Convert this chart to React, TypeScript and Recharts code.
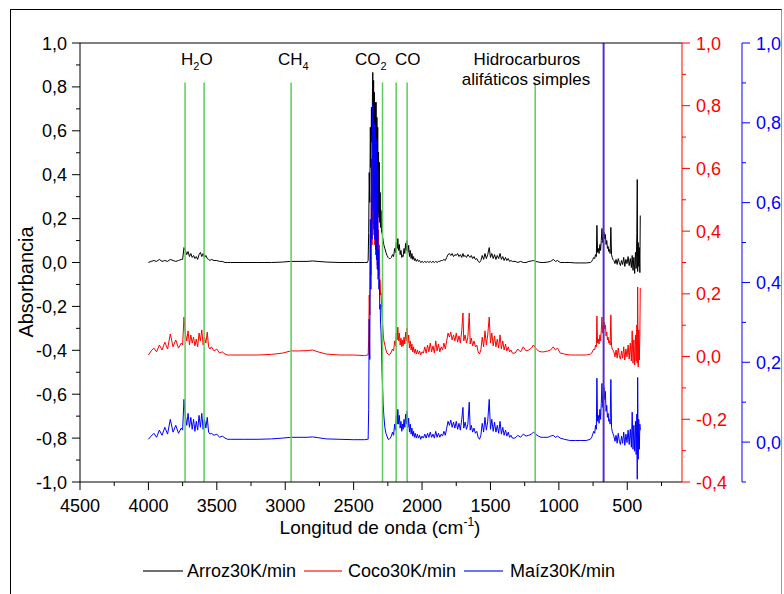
import { LineChart, Line, XAxis, YAxis, ReferenceLine } from 'recharts';

const FONT = '"Liberation Sans", Arial, sans-serif';

// wavenumber grid (cm-1), shared by the three spectra
const waveNumbers = [
  4000, 3980, 3960, 3940, 3920, 3900, 3880, 3860, 3840, 3820, 3800, 3780, 3760,
  3750, 3740, 3730, 3720, 3710, 3700, 3690, 3680, 3670, 3660, 3650, 3640, 3630, 3620, 3610, 3600, 3590, 3580, 3570, 3560, 3550,
  3540, 3520, 3500, 3480, 3460, 3440, 3420,
  3400, 3300, 3200, 3100, 3020, 2960, 2900, 2840, 2800, 2760, 2700, 2600, 2500, 2420,
  2400, 2394, 2390, 2386, 2382, 2378, 2374, 2370, 2366, 2362, 2360, 2357, 2354, 2351, 2348, 2345, 2342, 2339, 2336, 2333, 2330, 2327, 2324, 2321, 2318, 2315, 2312, 2309, 2306, 2303, 2300, 2296, 2292, 2288, 2284, 2280,
  2272, 2264, 2256, 2248, 2240, 2232, 2224, 2216, 2208, 2200, 2194, 2188, 2182, 2177, 2172, 2166, 2160, 2154, 2148, 2143, 2138, 2132, 2126, 2120, 2114, 2109, 2104, 2098, 2092, 2086, 2080, 2074, 2068, 2062, 2056, 2050, 2042, 2034, 2026, 2018, 2010, 2000,
  1990, 1980, 1970, 1960, 1950, 1940, 1930, 1920, 1910, 1900, 1890, 1880, 1870, 1860, 1850, 1840,
  1830, 1820, 1810, 1800, 1790, 1780, 1770, 1760, 1750, 1740, 1730, 1720, 1710, 1701, 1695, 1685, 1675, 1665, 1655, 1648, 1640, 1630, 1620, 1610, 1600, 1590, 1580,
  1570, 1560, 1550, 1540, 1530, 1520, 1509, 1500, 1490, 1480, 1470, 1460, 1450, 1440, 1430, 1420, 1410, 1400, 1390, 1380, 1370, 1360, 1350, 1340,
  1320, 1300, 1280, 1260, 1240, 1220, 1200, 1186, 1170, 1150, 1130, 1110, 1080, 1060, 1041, 1025, 1010, 990, 960, 920, 880, 840, 800, 770,
  760, 752, 745, 738, 732, 726, 722, 717, 712, 706, 700, 695, 690, 685, 680, 675, 670, 665, 660, 655, 650, 645, 640, 635, 630, 625, 620, 615, 610, 605,
  598, 590, 582, 574, 566, 558, 550, 542, 534, 526, 518, 510, 502, 494, 486, 478, 470, 464, 458, 452, 446, 440, 435, 430, 427, 424, 420, 416, 412, 408, 405,
];

// Arroz 30K/min (left axis)
const arroz = [
  0, .005, .009, .005, .014, .005, .009, .005, .014, .009, .005, .009, .014,
  .014, .068, .055, .036, .050, .027, .041, .023, .032, .018, .027, .014, .036, .046, .027, .041, .023, .032, .018, .014, .009,
  .014, .009, .009, .005, .005, 0, 0,
  0, 0, 0, 0, .002, .005, .005, .005, .007, .005, .002, 0, 0, 0,
  0, .009, .137, .410, .274, .616, .433, .707, .547, .798, .866, .502, .830, .456, .775, .365, .730, .319, .730, .274, .661, .251, .616, .228, .502, .205, .456, .182, .319, .160, .237, .137, .137, .114, .100, .082,
  .064, .046, .032, .023, .018, .018, .023, .036, .027, .064, .046, .091, .064, .109, .055, .082, .036, .055, .023, .032, .027, .064, .041, .087, .055, .100, .046, .078, .027, .055, .018, .041, .014, .027, .009, .018, .005, .014, .005, .009, 0, .005,
  0, .005, 0, .005, 0, .005, 0, .005, 0, .005, 0, .005, .005, .009, .009, .014,
  .009, .023, .036, .041, .032, .041, .027, .036, .032, .041, .027, .036, .023, .041, .027, .032, .023, .036, .027, .023, .032, .018, .027, .014, .018, .005, 0,
  .009, .032, .014, .041, .018, .036, .068, .023, .041, .018, .036, .014, .032, .018, .041, .014, .027, .009, .023, .009, .018, .005, .009, .005,
  .005, 0, .005, 0, 0, .005, .007, .009, .005, .002, 0, 0, .002, .005, .014, .005, .009, 0, 0, 0, -.002, -.002, -.002, 0,
  .005, .014, .023, .018, .036, .027, .169, .046, .064, .041, .082, .055, .100, .155, .091, .119, .137, .109, .128, .082, .100, .064, .073, .050, .059, .041, .160, .036, .023, .014,
  .009, -.005, .014, -.009, .018, 0, -.014, .009, -.009, .023, -.018, .014, -.005, .027, -.014, .018, -.023, .032, -.036, .023, -.050, .046, -.027, .137, .378, -.041, .091, -.018, .068, -.046, .214,
];

// Coco 30K/min (red axis)
const coco = [
  .005, .018, .027, .015, .037, .021, .046, .024, .072, .031, .053, .027, .043,
  .037, .126, .075, .050, .082, .037, .069, .043, .062, .034, .056, .031, .075, .050, .085, .037, .062, .043, .078, .031, .024,
  .031, .018, .024, .011, .015, .008, .005,
  .005, .005, .005, .007, .011, .018, .018, .019, .021, .015, .008, .005, .005, .003,
  .005, .005, .053, .196, .133, .388, .260, .515, .356, .611, .643, .420, .595, .388, .563, .356, .531, .324, .515, .308, .484, .292, .452, .276, .404, .260, .356, .244, .244, .196, .203, .165, .133, .101, .075, .053,
  .037, .021, .011, .008, .005, .008, .015, .024, .018, .050, .034, .075, .053, .094, .050, .075, .037, .059, .031, .053, .034, .062, .040, .078, .050, .091, .043, .069, .027, .050, .021, .040, .015, .031, .011, .024, .008, .021, .008, .018, .005, .015,
  .011, .031, .011, .037, .015, .043, .015, .034, .011, .050, .018, .040, .015, .031, .021, .043,
  .024, .050, .075, .062, .078, .053, .069, .050, .075, .046, .066, .043, .082, .139, .050, .069, .043, .062, .139, .040, .059, .034, .050, .031, .037, .015, .008,
  .021, .062, .031, .082, .037, .069, .126, .043, .075, .034, .066, .031, .056, .027, .069, .024, .050, .021, .040, .018, .031, .015, .021, .011,
  .011, .024, .015, .031, .018, .021, .027, .037, .027, .018, .015, .015, .018, .021, .031, .021, .027, .011, .008, .005, .005, .005, .005, .008,
  .011, .018, .024, .021, .037, .031, .129, .043, .056, .040, .069, .050, .082, .126, .075, .094, .110, .088, .101, .066, .078, .053, .062, .043, .050, .037, .133, .034, .024, .021,
  .015, -.001, .021, -.005, .027, .002, -.008, .018, -.005, .031, -.011, .024, -.001, .037, -.008, .043, -.014, .082, -.021, .053, -.027, .069, -.014, .101, -.021, .222, -.033, .085, -.011, .069, .219,
];

// Maíz 30K/min (blue axis)
const maiz = [
  .007, .015, .022, .012, .030, .017, .037, .020, .057, .025, .042, .022, .035,
  .030, .107, .067, .042, .072, .037, .062, .032, .057, .027, .052, .030, .067, .037, .072, .032, .057, .035, .062, .025, .020,
  .022, .017, .020, .012, .015, .010, .007,
  .007, .007, .007, .008, .010, .012, .012, .012, .013, .011, .008, .007, .006, .006,
  .007, .007, .082, .308, .207, .558, .383, .709, .508, .809, .846, .583, .809, .533, .796, .508, .784, .483, .759, .458, .734, .433, .684, .408, .483, .383, .408, .333, .345, .295, .278, .228, .170, .132, .095, .070,
  .037, .022, .015, .007, .007, .010, .015, .025, .017, .045, .030, .067, .045, .082, .045, .067, .035, .052, .027, .045, .032, .057, .037, .070, .045, .077, .037, .060, .025, .045, .020, .035, .015, .027, .012, .022, .010, .020, .010, .017, .007, .015,
  .010, .020, .010, .022, .012, .025, .012, .020, .010, .027, .012, .022, .012, .020, .015, .027,
  .017, .035, .052, .042, .055, .037, .050, .035, .052, .032, .047, .030, .057, .087, .035, .050, .032, .045, .100, .030, .042, .025, .035, .022, .027, .012, .007,
  .017, .047, .025, .062, .030, .052, .107, .032, .057, .027, .050, .025, .042, .022, .052, .020, .037, .017, .030, .015, .025, .012, .017, .010,
  .010, .017, .012, .020, .015, .017, .020, .025, .020, .015, .012, .012, .012, .015, .017, .012, .015, .010, .007, .004, .004, .004, .004, .007,
  .012, .020, .027, .022, .042, .032, .160, .052, .067, .047, .082, .057, .097, .147, .087, .117, .137, .107, .127, .077, .092, .062, .072, .052, .057, .045, .157, .037, .027, .022,
  .015, .002, .017, -.003, .022, .002, -.006, .015, -.003, .025, -.008, .020, -.001, .030, -.006, .032, -.013, .075, -.018, .042, -.023, .052, -.031, .070, -.093, .162, -.043, .057, -.018, .045, .030,
];

const xTicks = [4500, 4250, 4000, 3750, 3500, 3250, 3000, 2750, 2500, 2250, 2000, 1750, 1500, 1250, 1000, 750, 500, 250];
const leftTicks = [-1.0, -0.9, -0.8, -0.7, -0.6, -0.5, -0.4, -0.3, -0.2, -0.1, 0, 0.1, 0.2, 0.3, 0.4, 0.5, 0.6, 0.7, 0.8, 0.9, 1.0];
const redTicks = [-0.4, -0.3, -0.2, -0.1, 0, 0.1, 0.2, 0.3, 0.4, 0.5, 0.6, 0.7, 0.8, 0.9, 1.0];
const blueTicks = [-0.1, 0, 0.1, 0.2, 0.3, 0.4, 0.5, 0.6, 0.7, 0.8, 0.9, 1.0];

// marked bands (green) and the CO2 bending line
const bandLines = [3732, 3593, 2957, 2289, 2189, 2109, 1173];
const bendLine = 673;

const series = [
  { key: 'arroz', name: 'Arroz30K/min', color: '#000000', axis: 'absorb' },
  { key: 'coco', name: 'Coco30K/min', color: '#ff0000', axis: 'coco' },
  { key: 'maiz', name: 'Maíz30K/min', color: '#0000ff', axis: 'maiz' },
];

const fmt = (v: number) => v.toFixed(1).replace('.', ',');
const isMajorY = (v: number) => Math.abs(Math.round(v * 10)) % 2 === 0;

function XTick({ x, y, payload }: any) {
  const major = payload.value % 500 === 0;
  return (
    <g>
      <line x1={x} x2={x} y1={y} y2={y + (major ? 8 : 4)} stroke="#000" />
      {major && (
        <text x={x} y={y + 30} textAnchor="middle" fontSize={18} fontFamily={FONT} fill="#000">
          {payload.value}
        </text>
      )}
    </g>
  );
}

function LeftTick({ x, y, payload }: any) {
  const major = isMajorY(payload.value);
  return (
    <g>
      <line x1={x} x2={x - (major ? 8 : 4)} y1={y} y2={y} stroke="#000" />
      {major && (
        <text x={x - 13} y={y + 6.5} textAnchor="end" fontSize={18} fontFamily={FONT} fill="#000">
          {fmt(payload.value)}
        </text>
      )}
    </g>
  );
}

function RightTick({ x, y, payload, color }: any) {
  const major = isMajorY(payload.value);
  return (
    <g>
      <line x1={x} x2={x + (major ? 8 : 4)} y1={y} y2={y} stroke={color} />
      {major && (
        <text x={x + 14} y={y + 6.5} textAnchor="start" fontSize={18} fontFamily={FONT} fill={color}>
          {fmt(payload.value)}
        </text>
      )}
    </g>
  );
}

export default function App() {
  const rows = waveNumbers.map((w, i) => ({ w, arroz: arroz[i], coco: coco[i], maiz: maiz[i] }));

  return (
    <div style={{ position: 'absolute', left: 0, top: 0, width: 784, height: 594, background: '#fff', overflow: 'hidden', fontFamily: FONT }}>
      <div style={{ position: 'absolute', left: 10, top: 9, width: 770, height: 600, borderTop: '1px solid #000', borderLeft: '1px solid #000', borderRight: '1px solid #999' }} />
      <div style={{ position: 'absolute', left: 0, top: 0 }}>
        <LineChart width={784} height={594} data={rows} margin={{ top: 43, right: 6, bottom: 72, left: 10 }}>
          <XAxis dataKey="w" type="number" domain={[100, 4500]} reversed ticks={xTicks} interval={0}
            tickSize={0} tickMargin={0} height={40} axisLine={{ stroke: '#000' }} tick={<XTick />} allowDataOverflow />
          <YAxis yAxisId="absorb" domain={[-1, 1]} ticks={leftTicks} interval={0} width={70}
            tickSize={0} tickMargin={0} axisLine={{ stroke: '#000' }} tick={<LeftTick />} allowDataOverflow />
          <YAxis yAxisId="coco" orientation="right" domain={[-0.4, 1]} ticks={redTicks} interval={0} width={60}
            tickSize={0} tickMargin={0} axisLine={{ stroke: '#ff0000' }} tick={<RightTick color="#ff0000" />} allowDataOverflow />
          <YAxis yAxisId="maiz" orientation="right" domain={[-0.1, 1]} ticks={blueTicks} interval={0} width={36}
            tickSize={0} tickMargin={0} axisLine={{ stroke: '#0000ff' }} tick={<RightTick color="#0000ff" />} allowDataOverflow />
          {series.map((s) => (
            <Line key={s.key} yAxisId={s.axis} dataKey={s.key} name={s.name} type="linear" stroke={s.color}
              strokeWidth={1} dot={false} activeDot={false} isAnimationActive={false} />
          ))}
          {bandLines.map((w) => (
            <ReferenceLine key={w} yAxisId="absorb" segment={[{ x: w, y: -1 }, { x: w, y: 0.82 }]} stroke="#5ccc5c" strokeWidth={1.5} />
          ))}
          <ReferenceLine yAxisId="absorb" x={bendLine} stroke="#5530c8" strokeWidth={2} />
          <ReferenceLine yAxisId="absorb" y={1} stroke="#000" strokeWidth={1} />
        </LineChart>
      </div>
      <svg width={784} height={594} style={{ position: 'absolute', left: 0, top: 0, pointerEvents: 'none' }} fontFamily={FONT}>
        <g fontSize={17} fill="#000">
          <text x={181} y={65}>H<tspan fontSize={11} dy={5}>2</tspan><tspan dy={-5}>O</tspan></text>
          <text x={278} y={65}>CH<tspan fontSize={11} dy={5}>4</tspan></text>
          <text x={355} y={65}>CO<tspan fontSize={11} dy={5}>2</tspan></text>
          <text x={395} y={65}>CO</text>
          <text x={527} y={65} textAnchor="middle">Hidrocarburos</text>
          <text x={526} y={85} textAnchor="middle">alifáticos simples</text>
        </g>
        <text transform="translate(33,282) rotate(-90)" textAnchor="middle" fontSize={20} fill="#000">Absorbancia</text>
        <text x={380} y={534} textAnchor="middle" fontSize={19} fill="#000">
          Longitud de onda (cm<tspan fontSize={12} dy={-8}>-1</tspan><tspan dy={8}>)</tspan>
        </text>
        <g fontSize={18}>
          <line x1={143} x2={183} y1={571} y2={571} stroke="#707070" strokeWidth={2} />
          <text x={187} y={577} fill="#000">{series[0].name}</text>
          <line x1={304} x2={342} y1={571} y2={571} stroke="#ff7070" strokeWidth={2} />
          <text x={348} y={577} fill="#000">{series[1].name}</text>
          <line x1={464} x2={503} y1={571} y2={571} stroke="#7070ff" strokeWidth={2} />
          <text x={510} y={577} fill="#000">{series[2].name}</text>
        </g>
      </svg>
    </div>
  );
}
